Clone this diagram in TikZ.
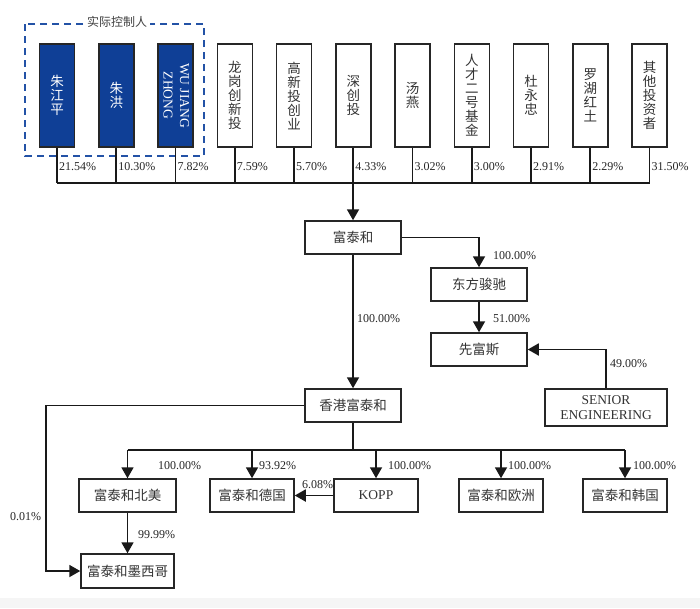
\documentclass[tikz,border=0pt]{standalone}
\usepackage{fontspec}
\setmainfont{Liberation Serif}
\newfontfamily\cjk{Noto Sans CJK SC}
\usetikzlibrary{arrows.meta}
\definecolor{ctrlblue}{HTML}{0F3F96}
\definecolor{dashblue}{HTML}{2352A6}
\begin{document}
\begin{tikzpicture}[x=1pt,y=-1pt,
  every node/.style={inner sep=0pt},
  tall/.style={draw=black!85, line width=1.5pt, minimum width=35pt, minimum height=103pt, align=center,
    font={\cjk\fontsize{13.5}{14}\selectfont}, text=black!80},
  ctrl/.style={tall, fill=ctrlblue, text=white},
  ent/.style={draw=black!85, line width=1.5pt, minimum height=33pt, align=center,
    font={\cjk\fontsize{13.5}{15}\selectfont}, text=black!80},
  pct/.style={anchor=west, font=\fontsize{12}{13}\selectfont, text=black!85},
  link/.style={line width=1.8pt, draw=black!90},
  arr/.style={link, -{Triangle[length=11pt,width=12pt]}}
]
\useasboundingbox (0,0) rectangle (700,608);
\fill[black!4] (0,598) rectangle (700,608);

% dashed group
\draw[dashblue, line width=1.6pt, dash pattern=on 7pt off 5pt] (25,24) rectangle (204,156);
\node[fill=white, inner xsep=3pt, inner ysep=2pt, font={\cjk\fontsize{12}{13}\selectfont}, text=black!75] (grp) at (117,22) {实际控制人};

% top shareholders
\node[ctrl] (t1) at (57,95.5) {朱\\江\\平};
\node[ctrl] (t2) at (116.25,95.5) {朱\\洪};
\node[ctrl] (t3) at (175.5,95.5) {};
\node[rotate=-90, align=center, text=white, font=\fontsize{13.5}{16.5}\selectfont] (t3txt) at (176.2,95.5) {WU JIANG\\ZHONG};
\node[tall] (t4) at (234.75,95.5) {龙\\岗\\创\\新\\投};
\node[tall] (t5) at (294,95.5) {高\\新\\投\\创\\业};
\node[tall] (t6) at (353.25,95.5) {深\\创\\投};
\node[tall] (t7) at (412.5,95.5) {汤\\燕};
\node[tall] (t8) at (471.75,95.5) {人\\才\\二\\号\\基\\金};
\node[tall] (t9) at (531,95.5) {杜\\永\\忠};
\node[tall] (t10) at (590.25,95.5) {罗\\湖\\红\\土};
\node[tall] (t11) at (649.5,95.5) {其\\他\\投\\资\\者};

\coordinate (busL) at (57,183);
\coordinate (busR) at (649.5,183);
\coordinate (busM) at (353,183);
\draw[link] (busL) -- (busR);
\foreach \i in {1,...,11} { \draw[link] (t\i.south) -- (t\i.south |- busL); }

\node[pct] (p1) at (59,167) {21.54\%};
\node[pct] (p2) at (118.25,167) {10.30\%};
\node[pct] (p3) at (177.5,167) {7.82\%};
\node[pct] (p4) at (236.75,167) {7.59\%};
\node[pct] (p5) at (296,167) {5.70\%};
\node[pct] (p6) at (355.25,167) {4.33\%};
\node[pct] (p7) at (414.5,167) {3.02\%};
\node[pct] (p8) at (473.75,167) {3.00\%};
\node[pct] (p9) at (533,167) {2.91\%};
\node[pct] (p10) at (592.25,167) {2.29\%};
\node[pct] (p11) at (651.5,167) {31.50\%};

% middle
\node[ent, minimum width=96pt] (fth) at (353,237.5) {富泰和};
\node[ent, minimum width=96pt] (dfjc) at (479,284.5) {东方骏驰};
\node[ent, minimum width=96pt] (xfs) at (479,349.5) {先富斯};
\node[ent, minimum width=122pt, minimum height=37pt, font=\fontsize{13.5}{15.5}\selectfont] (sen) at (606,407.5) {SENIOR\\ENGINEERING};
\node[ent, minimum width=96pt] (hk) at (353,405.5) {香港富泰和};

\draw[arr] (busM) -- (fth.north);
\draw[arr] (fth.east) -| (dfjc.north);
\draw[arr] (dfjc.south) -- (xfs.north);
\draw[arr] (sen.north) |- (xfs.east);
\draw[arr] (fth.south) -- (hk.north);

\node[pct] (q1) at (493,256) {100.00\%};
\node[pct] (q2) at (493,319) {51.00\%};
\node[pct] (q3) at (357,319) {100.00\%};
\node[pct] (q4) at (610,364) {49.00\%};

% bottom
\node[ent, minimum width=97pt] (na) at (127.5,495.5) {富泰和北美};
\node[ent, minimum width=84pt] (de) at (252,495.5) {富泰和德国};
\node[ent, minimum width=84pt, font=\fontsize{13.5}{15}\selectfont] (kopp) at (376,495.5) {KOPP};
\node[ent, minimum width=84pt] (eu) at (501,495.5) {富泰和欧洲};
\node[ent, minimum width=84pt] (kr) at (625,495.5) {富泰和韩国};
\node[ent, minimum width=93pt, minimum height=34pt] (mx) at (127.5,571) {富泰和墨西哥};

\coordinate (bus2) at (353,450);
\coordinate (leftc) at (46,405.5);
\draw[link] (hk.south) -- (bus2);
\draw[link] (na.north |- bus2) -- (kr.north |- bus2);
\foreach \n in {na,de,kopp,eu,kr} { \draw[arr] (\n.north |- bus2) -- (\n.north); }
\draw[arr] (kopp.west) -- (de.east);
\draw[arr] (na.south) -- (mx.north);
\draw[arr] (hk.west) -- (leftc) |- (mx.west);

\node[pct] (r1) at (158,466) {100.00\%};
\node[pct] (r2) at (259,466) {93.92\%};
\node[pct] (r3) at (388,466) {100.00\%};
\node[pct] (r4) at (508,466) {100.00\%};
\node[pct] (r5) at (633,466) {100.00\%};
\node[pct] (r6) at (302,485) {6.08\%};
\node[pct] (r7) at (138,535) {99.99\%};
\node[pct] (r8) at (10,517) {0.01\%};
\end{tikzpicture}
\end{document}
